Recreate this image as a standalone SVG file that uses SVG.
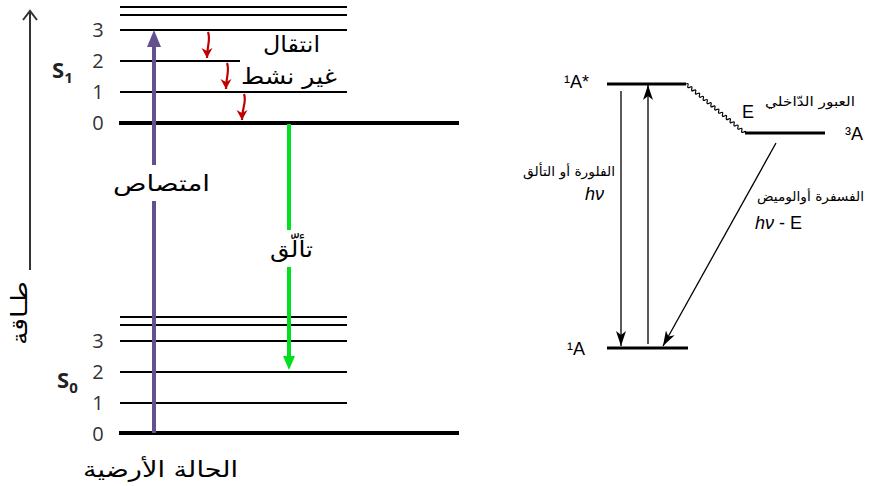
<svg xmlns="http://www.w3.org/2000/svg" width="872" height="486" viewBox="0 0 872 486">
<defs>
<style>
.lv{stroke:#000;stroke-width:2;fill:none}
.lv0{stroke:#000;stroke-width:4;fill:none}
.num{font-family:"Open Sans","Liberation Sans",sans-serif;font-size:20px;fill:#333}
.st{font-family:"Open Sans","Liberation Sans",sans-serif;font-size:22px;font-weight:bold;fill:#222}
.ar{font-family:"DejaVu Sans",sans-serif;font-size:22px;fill:#000}
.ars{font-family:"DejaVu Sans",sans-serif;font-size:13px;fill:#000}
.lab{font-family:"Liberation Sans",Arial,sans-serif;font-size:18px;fill:#000}
.thin{stroke:#000;stroke-width:1.3;fill:none}
.rl{stroke:#000;stroke-width:3;fill:none}
.red{stroke:#c00000;stroke-width:2.2;fill:none}
</style>
<marker id="red" markerWidth="12" markerHeight="12" refX="10" refY="6" orient="auto" markerUnits="userSpaceOnUse">
<path d="M0,0.5 L10,6 L0,11.5 L3,6 Z" fill="#c00000"/>
</marker>
<marker id="blk" markerWidth="16" markerHeight="10" refX="15" refY="5" orient="auto" markerUnits="userSpaceOnUse">
<path d="M0,0 L15,5 L0,10 L4,5 Z" fill="#000"/>
</marker>
</defs>
<rect width="872" height="486" fill="#fff"/>

<g id="energy-axis">
<line x1="30" y1="270" x2="30" y2="11" stroke="#333" stroke-width="2"/>
<path d="M23,20 L30,11 L37,20" fill="none" stroke="#333" stroke-width="2"/>
<text class="ar" transform="translate(27,313) rotate(-90)" text-anchor="middle" textLength="64" lengthAdjust="spacingAndGlyphs">طـاقة</text>
</g>

<g id="S1">
<line class="lv" x1="120" y1="7" x2="347" y2="7"/>
<line class="lv" x1="120" y1="15" x2="347" y2="15"/>
<line class="lv" x1="120" y1="30" x2="347" y2="30"/>
<line class="lv" x1="120" y1="61" x2="240" y2="61"/>
<line class="lv" x1="120" y1="92" x2="347" y2="92"/>
<line class="lv0" x1="119" y1="123" x2="459" y2="123"/>
<text class="num" x="98" y="37" text-anchor="middle">3</text>
<text class="num" x="98" y="68" text-anchor="middle">2</text>
<text class="num" x="98" y="99" text-anchor="middle">1</text>
<text class="num" x="98" y="130" text-anchor="middle">0</text>
<text class="st" x="52" y="78">S<tspan font-size="15" dy="5">1</tspan></text>
</g>

<g id="S0">
<line class="lv" x1="120" y1="317" x2="347" y2="317"/>
<line class="lv" x1="120" y1="325" x2="347" y2="325"/>
<line class="lv" x1="120" y1="341" x2="347" y2="341"/>
<line class="lv" x1="120" y1="372" x2="347" y2="372"/>
<line class="lv" x1="120" y1="403" x2="347" y2="403"/>
<line class="lv0" x1="119" y1="433" x2="459" y2="433"/>
<text class="num" x="98" y="348" text-anchor="middle">3</text>
<text class="num" x="98" y="379" text-anchor="middle">2</text>
<text class="num" x="98" y="410" text-anchor="middle">1</text>
<text class="num" x="98" y="441" text-anchor="middle">0</text>
<text class="st" x="57" y="388">S<tspan font-size="15" dy="5">0</tspan></text>
<text class="ar" x="83" y="477" textLength="155" lengthAdjust="spacingAndGlyphs">الحالة الأرضية</text>
</g>

<g id="absorption">
<line x1="154" y1="433" x2="154" y2="201" stroke="#65508f" stroke-width="4"/>
<line x1="154" y1="165" x2="154" y2="44" stroke="#65508f" stroke-width="4"/>
<path d="M147,47 L154,30 L161,47 Z" fill="#65508f"/>
<text class="ar" x="113" y="191" textLength="97" lengthAdjust="spacingAndGlyphs">امتصاص</text>
</g>

<g id="fluorescence">
<line x1="289" y1="124" x2="289" y2="230" stroke="#00e020" stroke-width="4"/>
<line x1="289" y1="267" x2="289" y2="358" stroke="#00e020" stroke-width="4"/>
<path d="M283,356 L289,370 L295,356 Z" fill="#00e020"/>
<text class="ar" x="270" y="257" textLength="43" lengthAdjust="spacingAndGlyphs">تألّق</text>
</g>

<g id="internal-conversion">
<path class="red" d="M208,32 C211,40 207,45 207,58" marker-end="url(#red)"/>
<path class="red" d="M227,63 C230,71 226,76 226,89" marker-end="url(#red)"/>
<path class="red" d="M244,94 C247,102 242,107 242,120" marker-end="url(#red)"/>
<text class="ar" x="263" y="52" textLength="57" lengthAdjust="spacingAndGlyphs">انتقال</text>
<text class="ar" x="241" y="84" textLength="96" lengthAdjust="spacingAndGlyphs">غير نشط</text>
</g>

<g id="A1star">
<line class="rl" x1="607" y1="84" x2="686" y2="84"/>
<text class="lab" x="564" y="88">¹A*</text>
</g>
<g id="A3">
<line class="rl" x1="745" y1="133" x2="825" y2="133"/>
<text class="lab" x="845" y="140">³A</text>
</g>
<g id="A1">
<line class="rl" x1="607" y1="348" x2="688" y2="348"/>
<text class="lab" x="567" y="355">¹A</text>
</g>

<g id="connectors">
<g transform="translate(686,84) rotate(39.7)">
<path d="M0,0 q1.25,-3 2.5,0 t2.5,0 t2.5,0 t2.5,0 t2.5,0 t2.5,0 t2.5,0 t2.5,0 t2.5,0 t2.5,0 t2.5,0 t2.5,0 t2.5,0 t2.5,0 t2.5,0 t2.5,0 t2.5,0 t2.5,0 t2.5,0 t2.5,0 t2.5,0 t2.5,0 t2.5,0 t2.5,0 t2.5,0 t2.5,0 t2.5,0 t2.5,0 t2.5,0 t2.5,0 t1.8,0" fill="none" stroke="#000" stroke-width="1.2"/>
</g>
<line class="thin" x1="621" y1="91" x2="621" y2="346" marker-end="url(#blk)"/>
<line class="thin" x1="648" y1="344" x2="648" y2="85" marker-end="url(#blk)"/>
<line class="thin" x1="776" y1="143" x2="663" y2="346" marker-end="url(#blk)"/>
</g>

<g id="labels-right">
<text class="lab" x="742" y="118">E</text>
<text class="ars" x="765" y="106" textLength="90" lengthAdjust="spacingAndGlyphs">العبور الدّاخلي</text>
<text class="ars" x="523" y="176" textLength="92" lengthAdjust="spacingAndGlyphs">الفلورة أو التألق</text>
<text class="lab" x="585" y="200" font-style="italic">hν</text>
<text class="ars" x="757" y="201" textLength="107" lengthAdjust="spacingAndGlyphs">الفسفرة أوالوميض</text>
<text class="lab" x="755" y="229"><tspan font-style="italic">hν</tspan> - E</text>
</g>
</svg>
